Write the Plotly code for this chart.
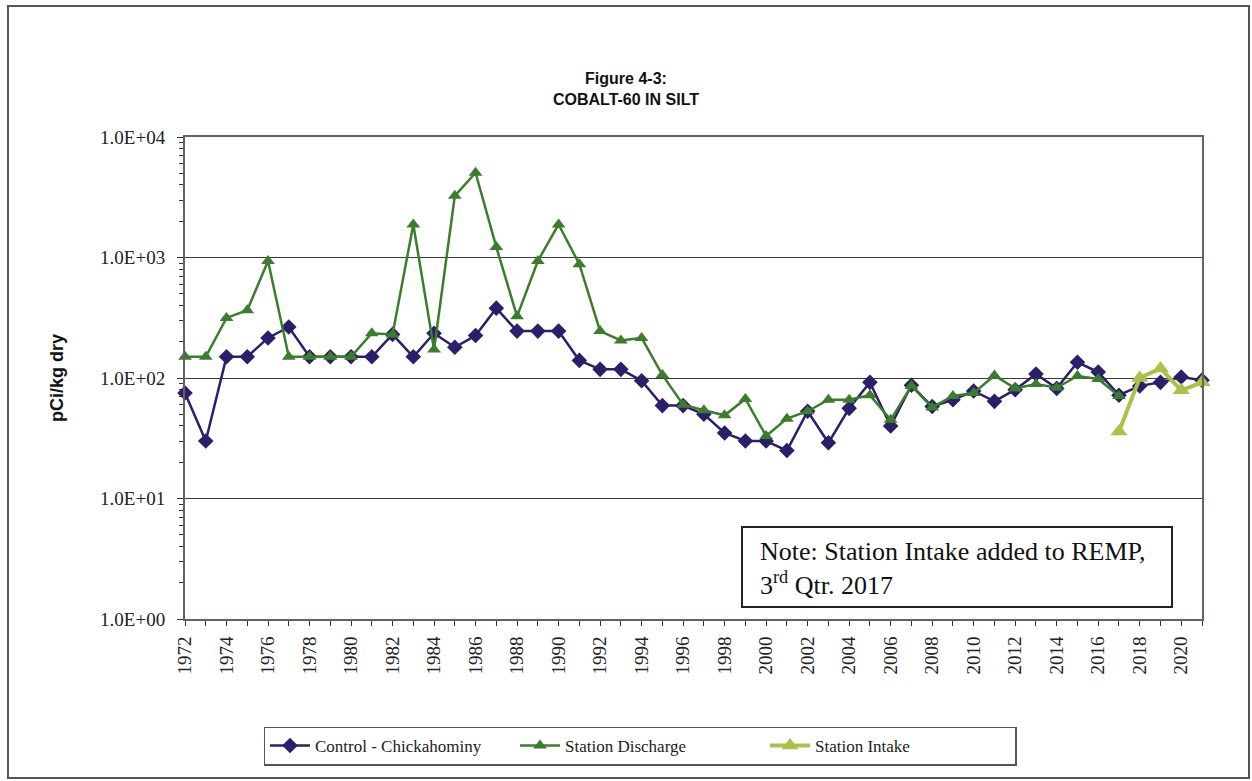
import plotly.graph_objects as go

years = list(range(1972, 2022))

control = [75, 30, 150, 150, 215, 265, 150, 150, 150, 150,
           230, 150, 235, 180, 225, 380, 245, 245, 245, 140,
           118, 118, 95, 59, 59, 50, 35, 30, 30, 25,
           53, 29, 56, 92, 40, 87, 58, 66, 78, 64,
           80, 108, 82, 135, 112, 72, 86, 92, 102, 96]

discharge = [150, 150, 315, 365, 935, 150, 150, 150, 150, 235,
             230, 1880, 172, 3250, 5050, 1220, 325, 935, 1880, 880,
             245, 205, 215, 106, 60, 54, 49, 67, 33, 46,
             53, 66, 66, 72, 45, 86, 57, 71, 75, 105,
             82, 89, 83, 104, 98, 71]

intake_years = [2017, 2018, 2019, 2020, 2021]
intake = [36, 100, 120, 79, 92]

ytick_vals = [1, 10, 100, 1000, 10000]
ytick_text = ["1.0E+00", "1.0E+01", "1.0E+02", "1.0E+03", "1.0E+04"]
xtick_vals = list(range(1972, 2021, 2))
yminor_vals = [m * 10 ** e for e in range(0, 4) for m in range(2, 10)]

C_CTRL = "#2b1f6b"
C_DIS = "#3b7d2c"
C_INT = "#a9c24a"

fig = go.Figure()
fig.add_trace(go.Scatter(
    x=years, y=control, name="Control - Chickahominy", mode="lines+markers",
    line=dict(color=C_CTRL, width=2.5), cliponaxis=False,
    marker=dict(symbol="diamond", size=12, color=C_CTRL)))
fig.add_trace(go.Scatter(
    x=years[:len(discharge)], y=discharge, name="Station Discharge", mode="lines+markers",
    line=dict(color=C_DIS, width=2.5), cliponaxis=False,
    marker=dict(symbol="triangle-up", size=12, color=C_DIS)))
fig.add_trace(go.Scatter(
    x=intake_years, y=intake, name="Station Intake", mode="lines+markers",
    line=dict(color=C_INT, width=4), cliponaxis=False,
    marker=dict(symbol="triangle-up", size=15, color=C_INT)))

serif = "Liberation Serif, Times New Roman, serif"
sans = "Liberation Sans, Arial, sans-serif"

fig.update_layout(
    width=1252, height=781,
    margin=dict(l=185, r=50, t=137, b=162),
    paper_bgcolor="white", plot_bgcolor="white",
    font=dict(family=serif, size=17, color="#222"),
    showlegend=True,
    title=dict(text="<b>Figure 4-3:<br>COBALT-60 IN SILT</b>",
               x=0.5, xref="container", xanchor="center",
               y=1 - 84 / 781, yref="container", yanchor="middle",
               font=dict(family="Liberation Sans Narrow, Liberation Sans", size=16, color="#111")),
    xaxis=dict(range=[1972, 2021], tickmode="array", tickvals=xtick_vals,
               ticktext=[str(v) for v in xtick_vals], tickangle=-90,
               tickfont=dict(family=serif, size=19, color="#222"),
               ticks="outside", ticklen=5, tickcolor="#333",
               minor=dict(ticks="outside", ticklen=5, dtick=1, tick0=1972, tickcolor="#333"),
               showgrid=False, showline=True, linecolor="#6e5e60", linewidth=2,
               mirror=True, zeroline=False, ticklabelstandoff=3),
    yaxis=dict(type="log", range=[0, 4], tickmode="array", tickvals=ytick_vals,
               ticktext=ytick_text,
               tickfont=dict(family=serif, size=19, color="#222"),
               ticks="outside", ticklen=6, tickcolor="#333",
               minor=dict(ticks="outside", ticklen=4, tickmode="array", tickvals=yminor_vals,
                          tickcolor="#333", showgrid=False),
               showgrid=True, gridcolor="#3a3a3a", gridwidth=1,
               showline=True, linecolor="#6e5e60", linewidth=2, mirror=True, zeroline=False,
               ticklabelstandoff=8,
               title=dict(text="<b>pCi/kg dry</b>", standoff=32,
                          font=dict(family=sans, size=18, color="#111"))),
    legend=dict(orientation="h", x=(640 - 185) / 1017, xanchor="center",
                y=(619 - 746) / 482, yanchor="middle",
                bordercolor="#555", borderwidth=1.5, bgcolor="white",
                font=dict(family=serif, size=17, color="#222"),
                entrywidth=195, itemwidth=40),
)

# Note box
fig.add_shape(type="rect", xref="paper", yref="paper",
              x0=(742 - 185) / 1017, x1=(1172 - 185) / 1017,
              y0=(619 - 607) / 482, y1=(619 - 527) / 482,
              line=dict(color="#222", width=2), fillcolor="white", layer="above")
fig.add_annotation(xref="paper", yref="paper", x=(758 - 185) / 1017, y=(619 - 568) / 482,
                   xanchor="left", yanchor="middle", align="left", showarrow=False,
                   text="Note: Station Intake added to REMP,<br>3<sup>rd</sup> Qtr. 2017",
                   font=dict(family=serif, size=26, color="#111"))

# Outer frame
fig.add_shape(type="rect", xref="paper", yref="paper",
              x0=(8 - 185) / 1017, x1=(1249 - 185) / 1017,
              y0=(619 - 778) / 482, y1=(619 - 6) / 482,
              line=dict(color="#555", width=2), layer="below")

fig.write_html("out.html")
